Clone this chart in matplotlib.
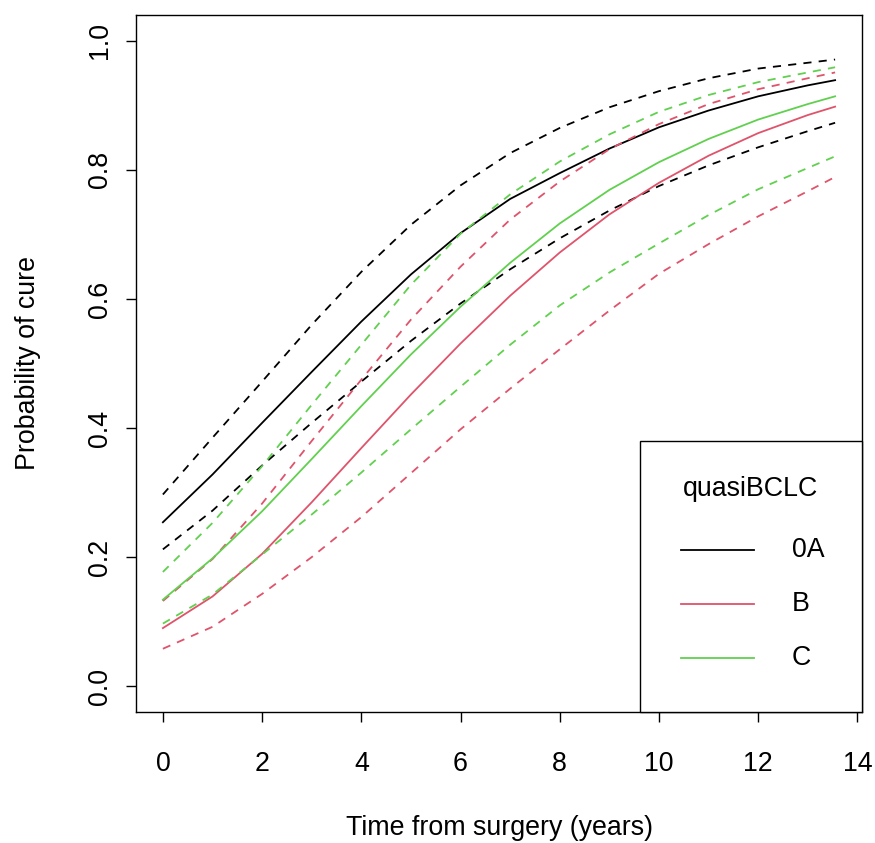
import matplotlib
matplotlib.use("Agg")
import matplotlib.pyplot as plt
from matplotlib.patches import Rectangle
from matplotlib.lines import Line2D

plt.rcParams['font.family'] = ['Liberation Sans', 'DejaVu Sans']

# Time grid (years from surgery)
years = [0, 1, 2, 3, 4, 5, 6, 7, 8, 9, 10, 11, 12, 13, 13.55]

# Estimated probability of cure with 95% confidence limits, by quasiBCLC stage
cure_0A = [0.254, 0.328, 0.408, 0.487, 0.565, 0.638, 0.702, 0.755, 0.795, 0.833, 0.866, 0.892, 0.914, 0.931, 0.939]
lower_0A = [0.212, 0.272, 0.342, 0.408, 0.472, 0.535, 0.593, 0.646, 0.694, 0.737, 0.775, 0.807, 0.835, 0.860, 0.873]
upper_0A = [0.297, 0.385, 0.472, 0.560, 0.642, 0.715, 0.776, 0.826, 0.865, 0.897, 0.922, 0.942, 0.957, 0.966, 0.971]

cure_B = [0.090, 0.139, 0.205, 0.285, 0.369, 0.452, 0.531, 0.605, 0.672, 0.731, 0.780, 0.822, 0.857, 0.885, 0.898]
lower_B = [0.058, 0.092, 0.143, 0.200, 0.262, 0.330, 0.398, 0.461, 0.522, 0.582, 0.639, 0.685, 0.728, 0.767, 0.789]
upper_B = [0.132, 0.197, 0.283, 0.380, 0.475, 0.568, 0.650, 0.723, 0.782, 0.832, 0.871, 0.902, 0.925, 0.942, 0.951]

cure_C = [0.134, 0.198, 0.271, 0.352, 0.434, 0.514, 0.588, 0.656, 0.717, 0.769, 0.812, 0.848, 0.878, 0.902, 0.914]
lower_C = [0.097, 0.142, 0.204, 0.266, 0.331, 0.398, 0.464, 0.529, 0.590, 0.641, 0.686, 0.730, 0.770, 0.803, 0.821]
upper_C = [0.177, 0.253, 0.341, 0.436, 0.529, 0.622, 0.701, 0.762, 0.813, 0.855, 0.890, 0.916, 0.936, 0.951, 0.959]

groups = ["0A", "B", "C"]
colors = ["#000000", "#DF536B", "#61D04F"]
estimates = [cure_0A, cure_B, cure_C]
lowers = [lower_0A, lower_B, lower_C]
uppers = [upper_0A, upper_B, upper_C]

xticks = [0, 2, 4, 6, 8, 10, 12, 14]
yticks = [0.0, 0.2, 0.4, 0.6, 0.8, 1.0]
ytick_labels = ["0.0", "0.2", "0.4", "0.6", "0.8", "1.0"]

fig = plt.figure(figsize=(8.75, 8.43), dpi=100)
ax = fig.add_axes([136 / 875, 1 - 712 / 843, 726 / 875, 697 / 843])

lw = 1.3
dash = (0, (4.5, 4.0))
for est, lo, up, col in zip(estimates, lowers, uppers, colors):
    ax.plot(years, est, color=col, lw=lw)
    ax.plot(years, lo, color=col, lw=lw, linestyle=dash)
    ax.plot(years, up, color=col, lw=lw, linestyle=dash)

xr = years[-1] - years[0]
ax.set_xlim(years[0] - 0.04 * xr, years[-1] + 0.04 * xr)
ax.set_ylim(-0.04, 1.04)

ax.set_xticks(xticks)
ax.set_xticklabels([str(t) for t in xticks])
ax.set_yticks(yticks)
ax.set_yticklabels(ytick_labels, rotation=90, va='center')

fs = 19.3
ax.tick_params(axis='both', direction='out', length=7, width=1.0, labelsize=fs, color='black')
ax.tick_params(axis='x', pad=21)
ax.tick_params(axis='y', pad=9.5)
for s in ax.spines.values():
    s.set_linewidth(1.0)
    s.set_color('black')


def fx(px):
    return (px - 136) / 726


def fy(py):
    return (712 - py) / 697


ax.set_xlabel("Time from surgery (years)", fontsize=fs)
ax.set_ylabel("Probability of cure", fontsize=fs)
ax.xaxis.set_label_coords(0.5, fy(828))
ax.xaxis.label.set_va('center')
ax.yaxis.set_label_coords(fx(28), 0.5)
ax.yaxis.label.set_va('center')

# Legend drawn as a boxed key in the lower-right corner
ax.add_patch(Rectangle((fx(640), 0), 1 - fx(640), fy(441), transform=ax.transAxes,
                       facecolor='white', edgecolor='black', lw=1.0, zorder=5, clip_on=False))
ax.text(fx(750), fy(489), "quasiBCLC", transform=ax.transAxes, fontsize=fs,
        ha='center', va='center', zorder=6)
for g, col, py in zip(groups, colors, [550, 604, 658]):
    ax.add_line(Line2D([fx(681), fx(754)], [fy(py), fy(py)], transform=ax.transAxes,
                       color=col, lw=lw, zorder=6))
    ax.text(fx(792), fy(py), g, transform=ax.transAxes, fontsize=fs,
            ha='left', va='center', zorder=6)

fig.savefig("out.png", dpi=100)
